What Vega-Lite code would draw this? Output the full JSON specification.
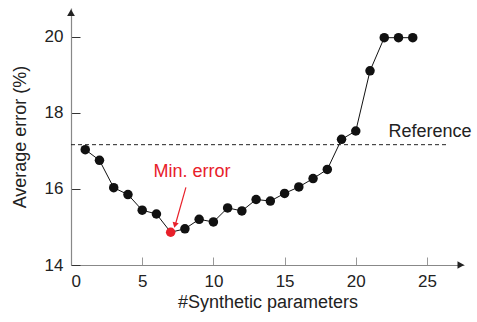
{
  "$schema": "https://vega.github.io/schema/vega-lite/v6.json",
  "width": 393,
  "height": 257,
  "autosize": "none",
  "padding": {"left": 71, "top": 8, "right": 13, "bottom": 57},
  "config": {
    "view": {"stroke": null},
    "font": "Liberation Sans",
    "axis": {"grid": false, "labelFont": "Liberation Sans", "titleFont": "Liberation Sans", "labelFontSize": 17, "titleFontSize": 18, "titleFontWeight": "normal", "labelColor": "#222", "titleColor": "#222", "domainColor": "#888", "domainWidth": 1.2}
  },
  "datasets": {
    "pts": [
      {"n": 1, "err": 17.03}, {"n": 2, "err": 16.75}, {"n": 3, "err": 16.03}, {"n": 4, "err": 15.85},
      {"n": 5, "err": 15.44}, {"n": 6, "err": 15.34}, {"n": 7, "err": 14.86, "min": true}, {"n": 8, "err": 14.95},
      {"n": 9, "err": 15.2}, {"n": 10, "err": 15.13}, {"n": 11, "err": 15.5}, {"n": 12, "err": 15.42},
      {"n": 13, "err": 15.72}, {"n": 14, "err": 15.68}, {"n": 15, "err": 15.88}, {"n": 16, "err": 16.05},
      {"n": 17, "err": 16.27}, {"n": 18, "err": 16.51}, {"n": 19, "err": 17.3}, {"n": 20, "err": 17.52},
      {"n": 21, "err": 19.1}, {"n": 22, "err": 19.97}, {"n": 23, "err": 19.97}, {"n": 24, "err": 19.97}
    ]
  },
  "layer": [
    {
      "data": {"values": [{"x": 0, "x2": 26.4, "y": 17.16}]},
      "mark": {"type": "rule", "strokeDash": [4, 3], "color": "#222", "strokeWidth": 1},
      "encoding": {
        "x": {"field": "x", "type": "quantitative", "scale": {"domain": [0, 27.6], "nice": false},
          "axis": {"title": "#Synthetic parameters", "values": [0, 5, 10, 15, 20, 25], "tickSize": -8, "tickColor": "#999", "labelPadding": 16, "titlePadding": 4}},
        "x2": {"field": "x2"},
        "y": {"field": "y", "type": "quantitative", "scale": {"domain": [14, 20.75], "nice": false, "zero": false},
          "axis": {"title": "Average error (%)", "values": [14, 16, 18, 20], "tickSize": -9, "tickColor": "#333", "labelPadding": 17, "titlePadding": 15}}
      }
    },
    {
      "data": {"values": [{"x": 22.3, "y": 17.5, "t": "Reference"}]},
      "mark": {"type": "text", "align": "left", "baseline": "middle", "fontSize": 18, "color": "#222"},
      "encoding": {"x": {"field": "x", "type": "quantitative"}, "y": {"field": "y", "type": "quantitative"}, "text": {"field": "t"}}
    },
    {
      "data": {"name": "pts"},
      "mark": {"type": "line", "color": "#111", "strokeWidth": 1},
      "encoding": {"x": {"field": "n", "type": "quantitative"}, "y": {"field": "err", "type": "quantitative"}}
    },
    {
      "data": {"name": "pts"},
      "mark": {"type": "point", "filled": true, "size": 90, "opacity": 1},
      "encoding": {
        "x": {"field": "n", "type": "quantitative"},
        "y": {"field": "err", "type": "quantitative"},
        "color": {"condition": {"test": "datum.min", "value": "#e8202a"}, "value": "#111"}
      }
    },
    {
      "data": {"values": [{"x": 8.07, "y": 16.04, "x2": 7.32, "y2": 15.05}]},
      "mark": {"type": "rule", "color": "#e8202a", "strokeWidth": 1.2},
      "encoding": {"x": {"field": "x", "type": "quantitative"}, "y": {"field": "y", "type": "quantitative"}, "x2": {"field": "x2"}, "y2": {"field": "y2"}}
    },
    {
      "data": {"values": [{"x": 7.32, "y": 15.07}]},
      "mark": {"type": "point", "shape": "triangle", "filled": true, "size": 40, "angle": 195, "color": "#e8202a", "opacity": 1},
      "encoding": {"x": {"field": "x", "type": "quantitative"}, "y": {"field": "y", "type": "quantitative"}}
    },
    {
      "data": {"values": [{"x": 8.5, "y": 16.43, "t": "Min. error"}]},
      "mark": {"type": "text", "align": "center", "baseline": "middle", "fontSize": 18, "color": "#e8202a"},
      "encoding": {"x": {"field": "x", "type": "quantitative"}, "y": {"field": "y", "type": "quantitative"}, "text": {"field": "t"}}
    },
    {
      "data": {"values": [{"x": 27.3, "y": 14, "a": 90}, {"x": 0, "y": 20.6, "a": 0}]},
      "mark": {"type": "point", "shape": "triangle", "filled": true, "size": 60, "color": "#222", "opacity": 1, "clip": false},
      "encoding": {"x": {"field": "x", "type": "quantitative"}, "y": {"field": "y", "type": "quantitative"}, "angle": {"field": "a", "type": "quantitative", "scale": null}}
    }
  ]
}
